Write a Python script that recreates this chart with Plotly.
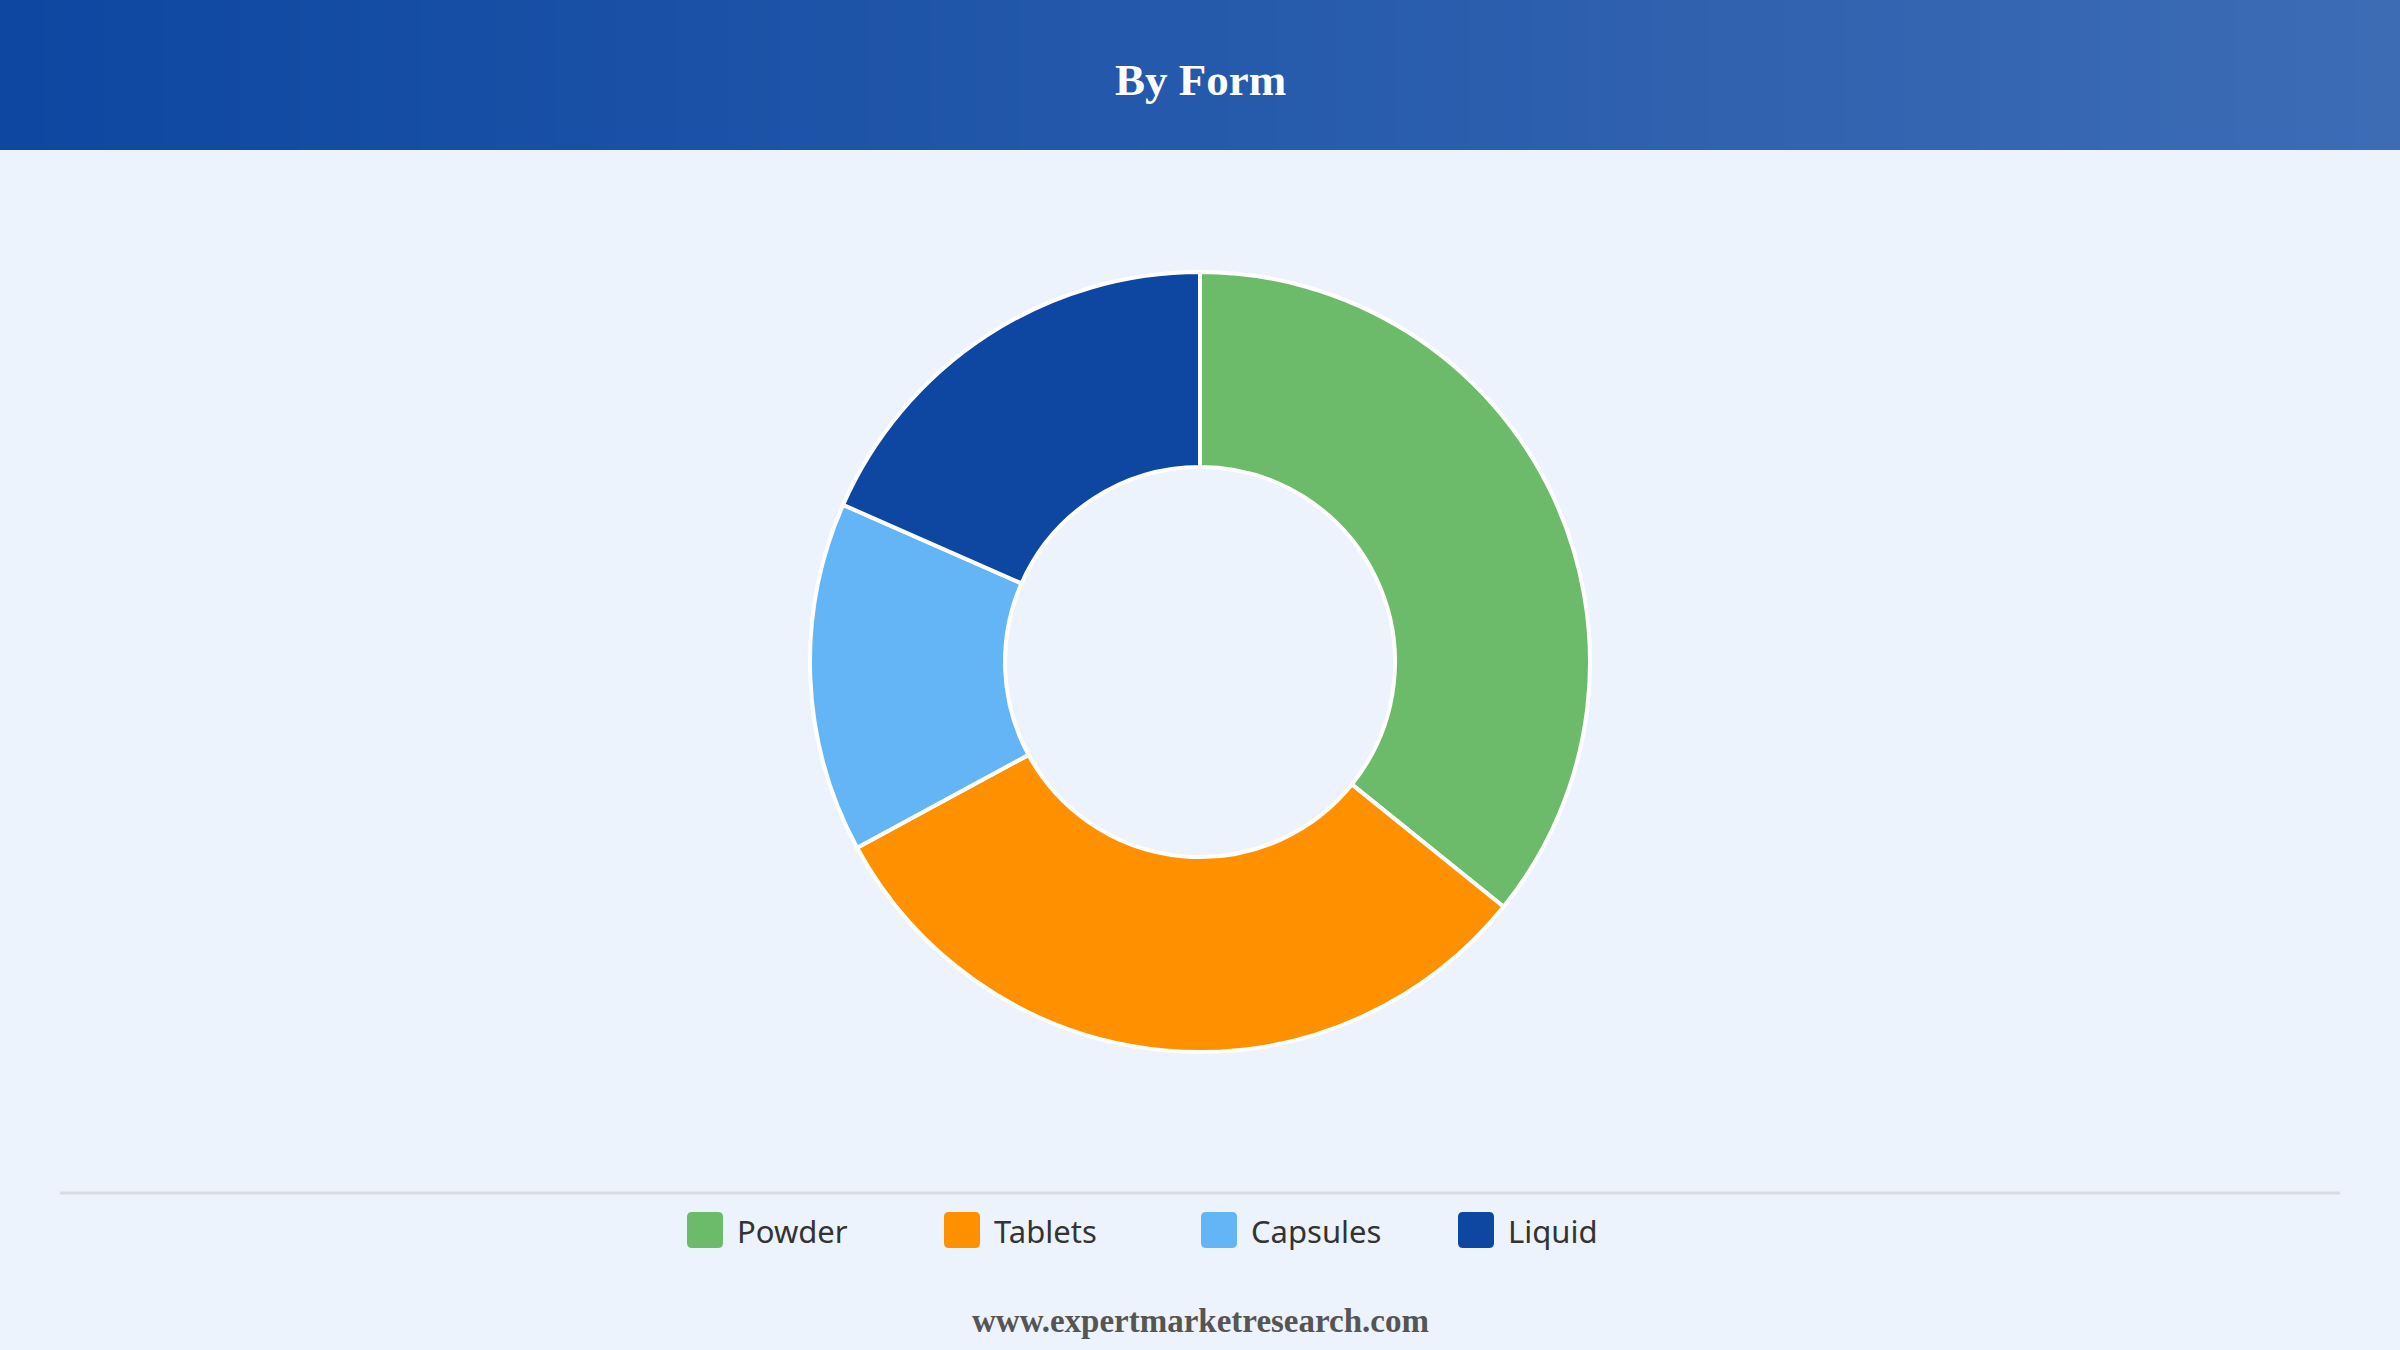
import plotly.graph_objects as go

# datos del grafico
labels = ["Powder", "Tablets", "Capsules", "Liquid"]
values = [35.8, 31.3, 14.5, 18.4]
colors = ["#6BBB6B", "#FF9100", "#64B5F6", "#0D47A1"]

title_text = "By Form"
footer_text = "www.expertmarketresearch.com"

W, H = 2400, 1350
bg = "#ECF3FC"

fig = go.Figure()

# dona principal
fig.add_trace(go.Pie(
    labels=labels,
    values=values,
    hole=0.5,
    sort=False,
    direction="clockwise",
    rotation=0,
    marker=dict(colors=colors, line=dict(color="white", width=4)),
    textinfo="none",
    hoverinfo="label+percent",
    showlegend=False,
    domain=dict(x=[810 / W, 1590 / W], y=[(H - 1052) / H, (H - 272) / H]),
))

shapes = []

# barra de cabecera con degradado
c0 = (0x0D, 0x47, 0xA1)
c1 = (0x3D, 0x6C, 0xB5)
n = 160
for i in range(n):
    t = i / (n - 1)
    r, g, b = [int(round(a + (bb - a) * t)) for a, bb in zip(c0, c1)]
    shapes.append(dict(
        type="rect", xref="paper", yref="paper", layer="below",
        x0=i / n, x1=(i + 1) / n + 0.001, y0=1 - 150 / H, y1=1,
        fillcolor=f"rgb({r},{g},{b})", line=dict(width=0),
    ))

# linea separadora
shapes.append(dict(
    type="line", xref="paper", yref="paper",
    x0=60 / W, x1=2340 / W, y0=1 - 1193 / H, y1=1 - 1193 / H,
    line=dict(color="#D9DCE1", width=3),
))

annotations = [
    dict(text=f"<b>{title_text}</b>", x=0.5, y=1 - 80 / H, xref="paper", yref="paper",
         xanchor="center", yanchor="middle", showarrow=False,
         font=dict(family="Liberation Serif", size=45, color="white")),
    dict(text=f"<b>{footer_text}</b>", x=0.5, y=1 - 1321 / H, xref="paper", yref="paper",
         xanchor="center", yanchor="middle", showarrow=False,
         font=dict(family="Liberation Serif", size=33, color="#555555")),
]

# leyenda manual con cuadros redondeados
sw = 36
rad = 5
ly = 1230
X = lambda v: v / W
Y = lambda v: 1 - v / H
for i, (lab, col) in enumerate(zip(labels, colors)):
    x0 = 687 + 257 * i
    x1 = x0 + sw
    y0 = ly - sw / 2
    y1 = ly + sw / 2
    path = (
        f"M {X(x0 + rad)} {Y(y0)} L {X(x1 - rad)} {Y(y0)} "
        f"Q {X(x1)} {Y(y0)} {X(x1)} {Y(y0 + rad)} L {X(x1)} {Y(y1 - rad)} "
        f"Q {X(x1)} {Y(y1)} {X(x1 - rad)} {Y(y1)} L {X(x0 + rad)} {Y(y1)} "
        f"Q {X(x0)} {Y(y1)} {X(x0)} {Y(y1 - rad)} L {X(x0)} {Y(y0 + rad)} "
        f"Q {X(x0)} {Y(y0)} {X(x0 + rad)} {Y(y0)} Z"
    )
    shapes.append(dict(type="path", xref="paper", yref="paper", path=path,
                       fillcolor=col, line=dict(width=0)))
    annotations.append(dict(
        text=lab, x=X(x1 + 12), y=Y(ly + 1), xref="paper", yref="paper",
        xanchor="left", yanchor="middle", showarrow=False,
        font=dict(family="Noto Sans", size=31, color="#333333"),
    ))

fig.update_layout(
    width=W, height=H,
    margin=dict(l=0, r=0, t=0, b=0),
    paper_bgcolor=bg,
    plot_bgcolor=bg,
    shapes=shapes,
    annotations=annotations,
)

# quitar el margen del body para que la figura llene la ventana
fig.write_html(
    "out.html",
    config={"displayModeBar": False},
    post_script="document.body.style.margin='0';document.body.style.overflow='hidden';",
)
